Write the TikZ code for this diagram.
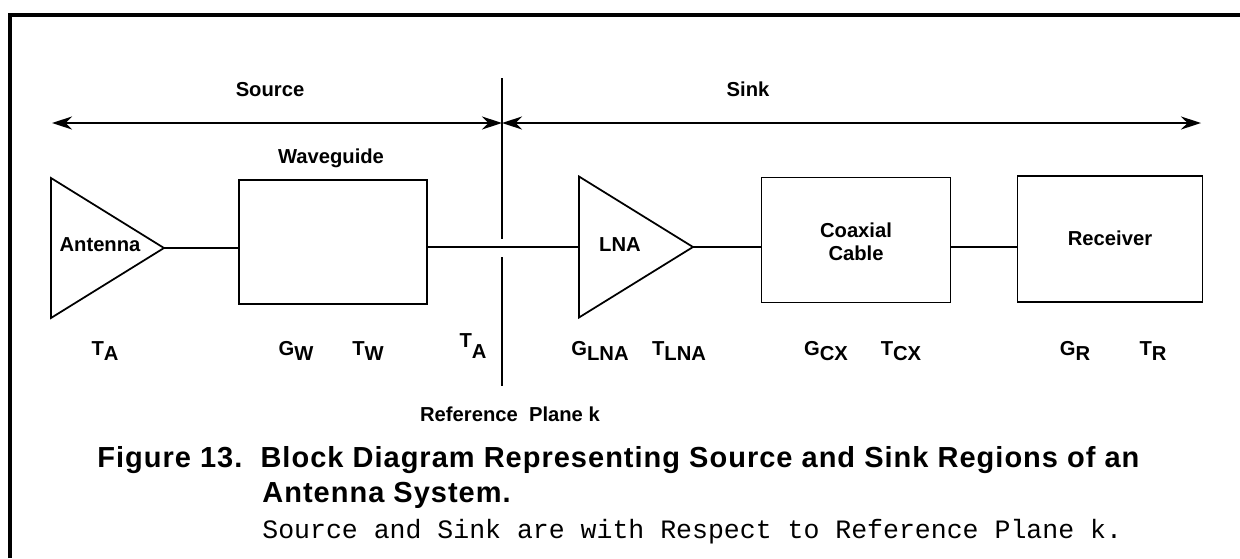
\documentclass[tikz,border=0pt]{standalone}
\usepackage{fontspec}
\setmainfont{Liberation Sans}
\setmonofont{Liberation Mono}
\newfontfamily\capfont[LetterSpace=3.5]{Liberation Sans}
\usetikzlibrary{arrows.meta,shapes.geometric}
\newcommand{\sbl}[2]{#1\raisebox{-0.55ex}{#2}}
\tikzset{
  lbl/.style={font=\bfseries\fontsize{11.5}{13}\selectfont,inner sep=0pt,anchor=base},
  sym/.style={font=\bfseries\fontsize{11.5}{13}\selectfont,inner sep=0pt,anchor=base},
  blk/.style={draw,line width=1pt,inner sep=0pt,outer sep=0pt},
  amp/.style={blk,isosceles triangle,isosceles triangle stretches,anchor=west},
  wire/.style={line width=1.3pt},
  plane/.style={line width=1pt},
  span/.style={line width=0.9pt,{Stealth[length=4mm,width=2.6mm]}-{Stealth[length=4mm,width=2.6mm]}},
  frame/.style={line width=1.8pt},
  caption/.style={font=\capfont\bfseries\fontsize{16.5}{19}\selectfont,inner sep=0pt,anchor=base west}
}
\begin{document}
\begin{tikzpicture}[x=0.02cm,y=-0.02cm]
\path[use as bounding box] (0,0) rectangle (1240,558);
\draw[frame] (10,558) -- (10,15) -- (1240,15);
% source / sink spans
\coordinate (srcL) at (52,123);
\coordinate (kArr) at (502,123);
\coordinate (snkR) at (1201,123);
\draw[span] (srcL) -- (kArr);
\draw[span] (kArr) -- (snkR);
\node[lbl] (src) at (270,96) {Source};
\node[lbl] (snk) at (748,96) {Sink};
% reference plane k
\coordinate (kTop) at (502,78);
\coordinate (kGapA) at (502,239);
\coordinate (kGapB) at (502,257);
\coordinate (kBot) at (502,386);
\draw[plane] (kTop) -- (kGapA);
\draw[plane] (kGapB) -- (kBot);
\node[lbl] (refk) at (510,421) {Reference\ \ Plane k};
% blocks
\node[amp,minimum width=2.8cm,minimum height=2.26cm] (ant) at (51,248) {};
\node[blk,minimum width=3.76cm,minimum height=2.48cm] (wg) at (333,242) {};
\node[amp,minimum width=2.82cm,minimum height=2.28cm] (lna) at (579,247) {};
\node[blk,minimum width=3.78cm,minimum height=2.5cm] (cx) at (856,240) {};
\node[blk,minimum width=3.7cm,minimum height=2.52cm] (rx) at (1110,239) {};
\node[lbl] (antT) at (100,251) {Antenna};
\node[lbl] (wgT) at (331,163) {Waveguide};
\node[lbl] (lnaT) at (620,251) {LNA};
\node[lbl,align=center,anchor=center] (cxT) at (856,242) {Coaxial\\Cable};
\node[lbl] (rxT) at (1110,245) {Receiver};
% connections
\draw[wire] (ant.east) -- (ant.east -| wg.west);
\draw[wire] (wg.east |- lna.west) -- (lna.west);
\draw[wire] (lna.east) -- (lna.east -| cx.west);
\draw[wire] (cx.east |- lna.east) -- (rx.west |- lna.east);
% gains and temperatures
\node[sym] (ta1) at (105,355) {\sbl{T}{A}};
\node[sym] (gw) at (296,355) {\sbl{G}{W}};
\node[sym] (tw) at (368,355) {\sbl{T}{W}};
\node[sym] (ta2) at (473,352) {\raisebox{0.4ex}{T}\raisebox{-0.6ex}{A}};
\node[sym] (glna) at (600,355) {\sbl{G}{LNA}};
\node[sym] (tlna) at (679,355) {\sbl{T}{LNA}};
\node[sym] (gcx) at (826,355) {\sbl{G}{CX}};
\node[sym] (tcx) at (901,355) {\sbl{T}{CX}};
\node[sym] (gr) at (1075,355) {\sbl{G}{R}};
\node[sym] (tr) at (1153,355) {\sbl{T}{R}};
% caption
\node[caption] (cap1) at (97,467) {Figure 13.\ \ Block Diagram Representing Source and Sink Regions of an};
\node[caption] (cap2) at (262,502) {Antenna System.};
\node[font=\ttfamily\fontsize{15.1}{17}\selectfont,inner sep=0pt,anchor=base west] (cap3) at (262,538) {Source and Sink are with Respect to Reference Plane k.};
\end{tikzpicture}
\end{document}
